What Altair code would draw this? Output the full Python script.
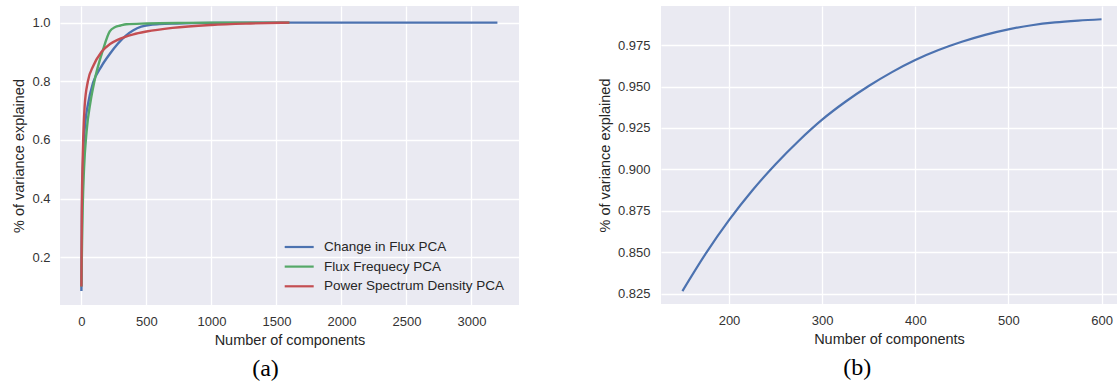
import altair as alt
import pandas as pd

# Cumulative explained variance for the three PCA feature sets
flux_change_n = [0, 3, 8, 15, 30, 50, 90, 154, 218, 280, 340, 400, 460, 520, 600, 731,
                 1000, 1500, 3200]
flux_change_var = [0.085, 0.30, 0.45, 0.56, 0.66, 0.72, 0.795, 0.851, 0.893, 0.928, 0.955,
                   0.974, 0.986, 0.992, 0.995, 0.997, 0.999, 1.0, 1.0]

flux_freq_n = [0, 5, 10, 20, 40, 70, 100, 166, 218, 260, 300, 346, 500, 800, 1200, 1600]
flux_freq_var = [0.10, 0.25, 0.37, 0.50, 0.63, 0.73, 0.80, 0.907, 0.970, 0.985, 0.990,
                 0.9945, 0.997, 0.999, 1.0, 1.0]

psd_n = [0, 3, 8, 15, 25, 50, 90, 154, 220, 282, 400, 500, 700, 1000, 1300, 1600]
psd_var = [0.10, 0.35, 0.50, 0.62, 0.715, 0.80, 0.851, 0.900, 0.927, 0.942, 0.960,
           0.9695, 0.982, 0.992, 0.997, 1.0]

# Zoomed view of one curve between 150 and 600 components
zoom_n = [150, 175, 200, 225, 250, 275, 300, 325, 350, 375, 400, 425, 450, 475, 500,
          525, 550, 575, 600]
zoom_var = [0.8265, 0.8491, 0.8693, 0.8872, 0.9031, 0.9173, 0.9300, 0.9408, 0.9503, 0.9587,
            0.9660, 0.9720, 0.9770, 0.9812, 0.9845, 0.9870, 0.9887, 0.9898, 0.9906]

series_names = ["Change in Flux PCA", "Flux Frequecy PCA", "Power Spectrum Density PCA"]
series_colors = ["#4C72B0", "#55A868", "#C44E52"]
series_x = [flux_change_n, flux_freq_n, psd_n]
series_y = [flux_change_var, flux_freq_var, psd_var]

left_x_ticks = [0, 500, 1000, 1500, 2000, 2500, 3000]
left_y_ticks = [0.2, 0.4, 0.6, 0.8, 1.0]
right_x_ticks = [200, 300, 400, 500, 600]
right_y_ticks = [0.825, 0.850, 0.875, 0.900, 0.925, 0.950, 0.975]

FONT = "Liberation Sans"
LEFT_W, LEFT_H = 459, 299
RIGHT_W, RIGHT_H = 456, 298

left_x = alt.X("n:Q",
               scale=alt.Scale(domain=[-164.6, 3366], nice=False, zero=False),
               axis=alt.Axis(values=left_x_ticks, format="d", title="Number of components"))
left_y = alt.Y("v:Q",
               scale=alt.Scale(domain=[0.037, 1.0566], nice=False, zero=False),
               axis=alt.Axis(values=left_y_ticks, format=".1f", title="% of variance explained"))

left_layers = []
for name, color, xs, ys in zip(series_names, series_colors, series_x, series_y):
    df = pd.DataFrame({"n": xs, "v": ys, "series": name})
    left_layers.append(
        alt.Chart(df).mark_line(color=color, strokeWidth=2.4, interpolate="monotone", clip=True)
        .encode(x=left_x, y=left_y)
    )

# Legend box in the lower right of the left panel
legend_rows = [241, 260.6, 280.3]
for name, color, row in zip(series_names, series_colors, legend_rows):
    one = pd.DataFrame({"series": [name]})
    left_layers.append(
        alt.Chart(one).mark_rule(color=color, strokeWidth=2.2)
        .encode(x=alt.value(224.7), x2=alt.value(253.7), y=alt.value(row))
    )
    left_layers.append(
        alt.Chart(one).mark_text(align="left", baseline="middle", font=FONT, fontSize=13.5,
                                 color="#262626")
        .encode(x=alt.value(264), y=alt.value(row), text="series:N")
    )

left = alt.layer(*left_layers).properties(
    width=LEFT_W, height=LEFT_H,
    title=alt.TitleParams("(a)", orient="bottom", anchor="middle", frame="bounds",
                          font="Liberation Serif", fontSize=24, fontWeight="normal",
                          color="black", offset=10),
)

zoom_df = pd.DataFrame({"n": zoom_n, "v": zoom_var})
right = alt.Chart(zoom_df).mark_line(color="#4C72B0", strokeWidth=2.2, interpolate="monotone",
                                     clip=True).encode(
    x=alt.X("n:Q", scale=alt.Scale(domain=[127, 616.6], nice=False, zero=False),
            axis=alt.Axis(values=right_x_ticks, format="d", title="Number of components")),
    y=alt.Y("v:Q", scale=alt.Scale(domain=[0.8187, 0.9986], nice=False, zero=False),
            axis=alt.Axis(values=right_y_ticks, format=".3f", title="% of variance explained",
                          labelPadding=11)),
).properties(
    width=RIGHT_W, height=RIGHT_H,
    title=alt.TitleParams("(b)", orient="bottom", anchor="middle", frame="bounds",
                          font="Liberation Serif", fontSize=24, fontWeight="normal",
                          color="black", offset=10),
)

chart = alt.hconcat(left, right, spacing=78).properties(
    padding={"left": 11, "top": 6, "right": 0, "bottom": 0},
    background="white",
).configure_view(
    fill="#EAEAF2", stroke=None, strokeWidth=0,
).configure_axis(
    labelFont=FONT, labelFontSize=13, labelColor="#333333",
    titleFont=FONT, titleFontSize=14.5, titleFontWeight="normal", titleColor="#262626",
    domain=False, ticks=False, grid=True, gridColor="white", gridWidth=1.3,
    labelPadding=10, titlePadding=5,
)

chart.save("out.html", embed_options={"renderer": "svg", "actions": False})
